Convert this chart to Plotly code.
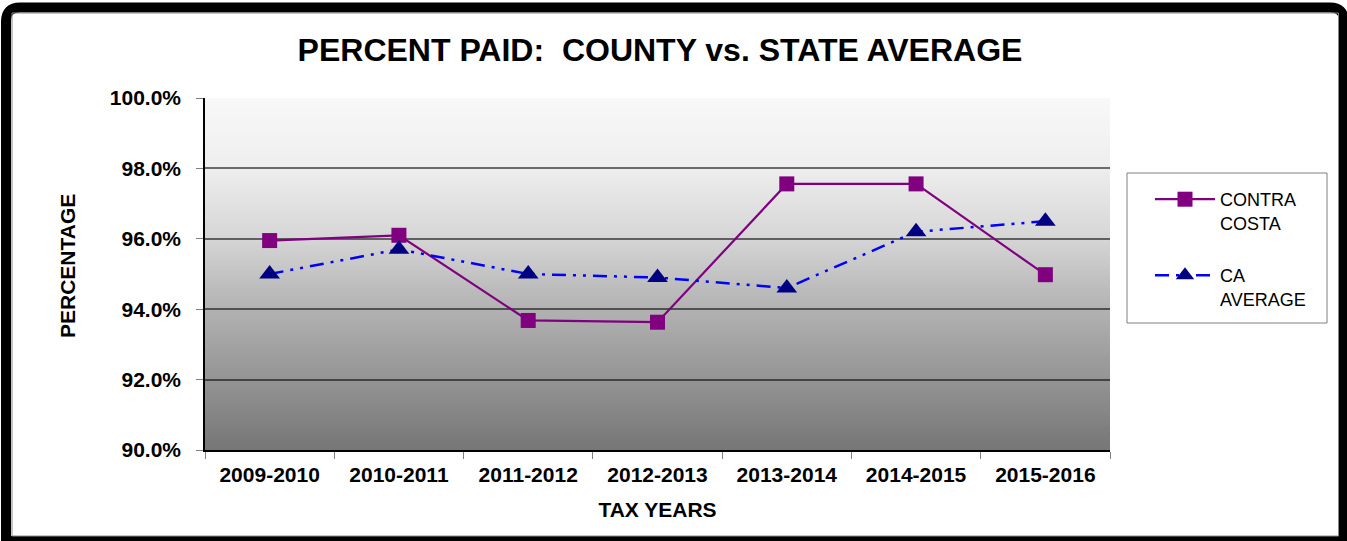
import plotly.graph_objects as go

years = ["2009-2010", "2010-2011", "2011-2012", "2012-2013", "2013-2014", "2014-2015", "2015-2016"]
contra_costa = [95.95, 96.1, 93.68, 93.63, 97.56, 97.56, 94.98]
ca_average = [95.0, 95.7, 95.0, 94.9, 94.6, 96.2, 96.5]
y_ticks = [90, 92, 94, 96, 98, 100]

W, H = 1347, 541
L, R, T, B = 205, 1110, 98, 450

fig = go.Figure()
fig.add_trace(go.Scatter(
    x=years, y=contra_costa, name="CONTRA<br>COSTA", mode="lines+markers",
    legend="legend",
    line=dict(color="#800080", width=2.2),
    marker=dict(symbol="square", size=15, color="#800080"),
))
fig.add_trace(go.Scatter(
    x=years, y=ca_average, name="CA<br>AVERAGE", mode="lines+markers",
    legend="legend2",
    line=dict(color="#0000FF", width=2.5, dash="14px,7px,3px,7px,3px,7px"),
    marker=dict(symbol="triangle-up", size=18, color="#000080"),
))

# gradient background of the plot area (style only)
stops = [(0.0, 248), (0.2, 238), (0.4, 213), (0.6, 178), (0.8, 148), (1.0, 118)]
def shade(t):
    for (t0, c0), (t1, c1) in zip(stops[:-1], stops[1:]):
        if t0 <= t <= t1:
            return c0 + (c1 - c0) * (t - t0) / (t1 - t0)
    return stops[-1][1]
shapes = []
N = 120
for i in range(N):
    t = (i + 0.5) / N
    c = int(round(shade(t)))
    shapes.append(dict(type="rect", xref="x domain", yref="y domain",
                       x0=0, x1=1, y0=1 - i / N, y1=0,
                       fillcolor=f"rgb({c},{c},{c})", line=dict(width=0), layer="below"))

def px(x):
    return (x - L) / (R - L)
def py(y):
    return (B - y) / (B - T)

# legend box
shapes.append(dict(type="rect", xref="paper", yref="paper",
                   x0=px(1127), x1=px(1327), y0=py(173), y1=py(323),
                   line=dict(color="#808080", width=1), fillcolor="white", layer="below"))

# outer frame with rounded corners
x0, x1, y0, y1, r = 6, 1344, 7.5, 541, 14
path = (f"M {px(x0)},{py(y0 + r)} Q {px(x0)},{py(y0)} {px(x0 + r)},{py(y0)} "
        f"L {px(x1 - r)},{py(y0)} Q {px(x1)},{py(y0)} {px(x1)},{py(y0 + r)} "
        f"L {px(x1)},{py(y1)} L {px(x0)},{py(y1)} Z")
shapes.append(dict(type="path", xref="paper", yref="paper", path=path,
                   line=dict(color="black", width=10), fillcolor="rgba(0,0,0,0)", layer="above"))
shapes.append(dict(type="path", xref="paper", yref="paper",
                   path=f"M {px(12)},{py(13)} L {px(1338.5)},{py(13)} L {px(1338.5)},{py(536)} L {px(12)},{py(536)} Z",
                   line=dict(color="#888", width=1), fillcolor="rgba(0,0,0,0)", layer="above"))

legend_style = dict(xanchor="left", yanchor="top", borderwidth=0, bgcolor="rgba(0,0,0,0)",
                    font=dict(size=18, color="black"), itemwidth=60, valign="top")

fig.update_layout(
    width=W, height=H,
    margin=dict(l=L, r=W - R, t=T, b=H - B, autoexpand=False),
    paper_bgcolor="white", plot_bgcolor="white",
    font=dict(family="Liberation Sans, Arial", color="black"),
    title=dict(text="<b>PERCENT PAID:  COUNTY vs. STATE AVERAGE</b>",
               x=660 / W, xref="container", xanchor="center",
               y=1 - 50 / H, yref="container", yanchor="middle",
               font=dict(size=32, color="black")),
    shapes=shapes,
    annotations=[dict(text="<b>PERCENTAGE</b>", textangle=-90, showarrow=False,
                      xref="paper", yref="paper", x=px(67), y=py(266),
                      xanchor="center", yanchor="middle", font=dict(size=21, color="black"))],
    showlegend=True,
    legend=dict(x=px(1150), y=py(181), **legend_style),
    legend2=dict(x=px(1150), y=py(257), **legend_style),
)
fig.update_xaxes(
    type="category", range=[-0.5, 6.5], tickson="boundaries", ticks="outside", ticklen=7, tickcolor="#808080",
    showline=True, linecolor="black", linewidth=1.5, showgrid=False,
    tickfont=dict(size=21), ticklabelstandoff=5,
    title=dict(text="<b>TAX YEARS</b>", font=dict(size=21), standoff=17),
    tickprefix="<b>", ticksuffix="</b>",
)
fig.update_yaxes(
    range=[90, 100], tickvals=y_ticks, ticktext=[f"<b>{v:.1f}%</b>" for v in y_ticks],
    ticks="outside", ticklen=7, tickcolor="#808080",
    showline=True, linecolor="black", linewidth=1.5,
    showgrid=True, gridcolor="rgba(0,0,0,0.55)", gridwidth=1.5,
    tickfont=dict(size=21), zeroline=False, ticklabelstandoff=11,
)
fig.write_html("out.html", config={"displayModeBar": False},
               post_script="document.body.style.margin='0';document.body.style.overflow='hidden';")
